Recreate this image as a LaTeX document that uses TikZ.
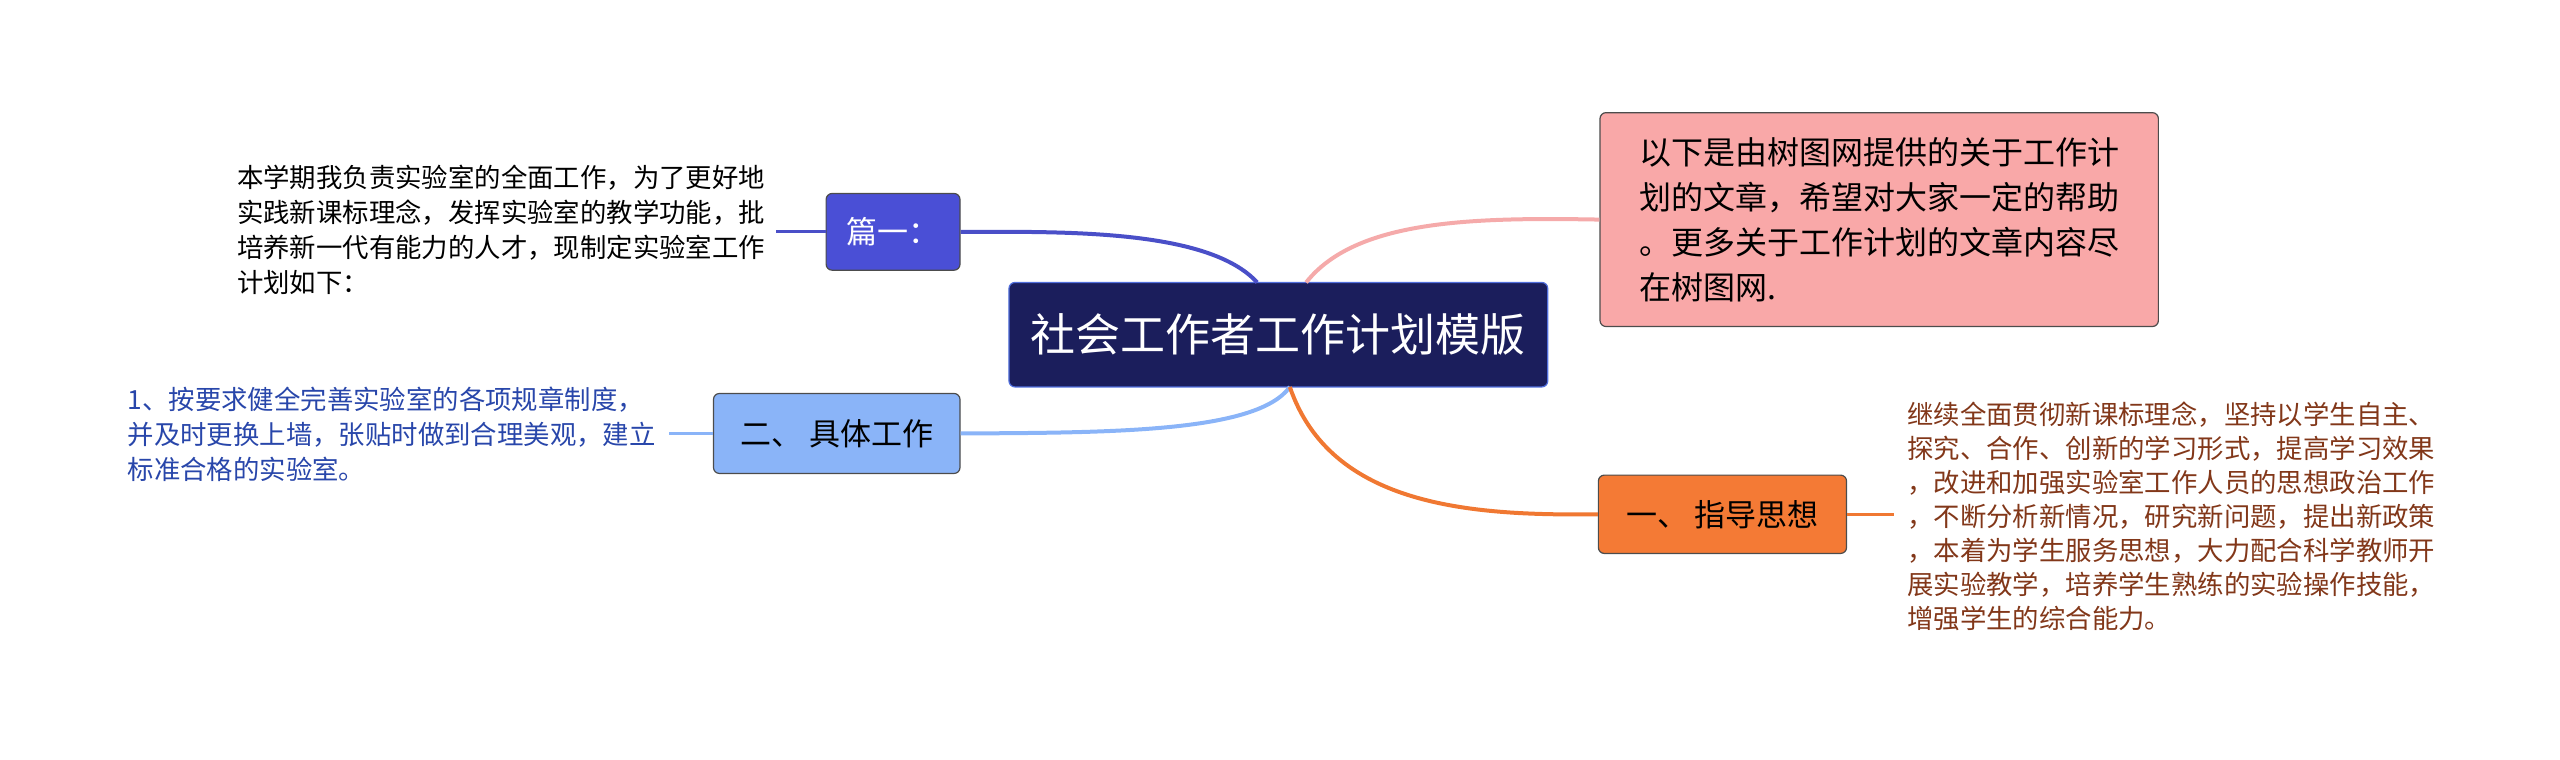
\documentclass[tikz,border=0pt]{standalone}
\usepackage{fontspec}
\setmainfont{Noto Sans CJK SC}
\newdimen\uu \uu=0.8164pt
\begin{document}
\begin{tikzpicture}[x=0.8164pt,y=-0.8164pt,
 box/.style={rounded corners=3pt,draw=black!70,line width=0.6pt,inner sep=0pt},
 leaf/.style={align=left,inner sep=0pt,font=\fontsize{13.2}{17.5}\selectfont,anchor=west},
 conn/.style={line width=2pt}]
\useasboundingbox (0,0) rectangle (1568,465);
\node[box,draw={rgb,255:red,80;green,110;blue,220},minimum width=330\uu,minimum height=64\uu,text=white,font=\fontsize{22.5}{26}\selectfont,fill={rgb,255:red,27;green,30;blue,92}] (c) at (783,205) {社会工作者工作计划模版};
\node[box,fill={rgb,255:red,74;green,79;blue,214},minimum width=82\uu,minimum height=47\uu,text=white,font=\fontsize{15.5}{18}\selectfont] (a) at (547,142) {篇一：};
\node[box,fill={rgb,255:red,138;green,180;blue,248},minimum width=151\uu,minimum height=49\uu,font=\fontsize{15.5}{18}\selectfont] (b) at (512.5,265.5) {二、 具体工作};
\node[box,fill={rgb,255:red,249;green,168;blue,168},minimum width=342\uu,minimum height=131\uu,font=\fontsize{16}{22.6}\selectfont,align=left] (p) at (1151,134.5) {以下是由树图网提供的关于工作计\\划的文章，希望对大家一定的帮助\\。更多关于工作计划的文章内容尽\\在树图网.};
\node[box,fill={rgb,255:red,244;green,122;blue,53},minimum width=152\uu,minimum height=48\uu,font=\fontsize{15.5}{18}\selectfont] (d) at (1055,315) {一、 指导思想};
\node[leaf] (la) at (145,141) {本学期我负责实验室的全面工作，为了更好地\\实践新课标理念，发挥实验室的教学功能，批\\培养新一代有能力的人才，现制定实验室工作\\计划如下：};
\node[leaf,text={rgb,255:red,40;green,70;blue,170}] (lb) at (78,266) {1、按要求健全完善实验室的各项规章制度，\\并及时更换上墙，张贴时做到合理美观，建立\\标准合格的实验室。};
\node[leaf,text={rgb,255:red,130;green,55;blue,25},font=\fontsize{13.2}{17}\selectfont] (ld) at (1168,316) {继续全面贯彻新课标理念，坚持以学生自主、\\探究、合作、创新的学习形式，提高学习效果\\，改进和加强实验室工作人员的思想政治工作\\，不断分析新情况，研究新问题，提出新政策\\，本着为学生服务思想，大力配合科学教师开\\展实验教学，培养学生熟练的实验操作技能，\\增强学生的综合能力。};
\draw[conn,draw={rgb,255:red,74;green,79;blue,200}] (770,173) .. controls (740,140) and (650,142) .. (a.east);
\draw[conn,draw={rgb,255:red,138;green,180;blue,248}] (790,237) .. controls (770,265) and (680,265) .. (b.east);
\draw[conn,draw={rgb,255:red,245;green,170;blue,170}] (800,173) .. controls (830,135) and (900,133) .. (p.west);
\draw[conn,draw={rgb,255:red,240;green,120;blue,50}] (790,237) .. controls (815,310) and (900,316) .. (d.west);
\draw[line width=1.5pt,draw={rgb,255:red,74;green,79;blue,200}] (a.west) -- (475,142);
\draw[line width=1.5pt,draw={rgb,255:red,138;green,180;blue,248}] (b.west) -- (410,265.5);
\draw[line width=1.5pt,draw={rgb,255:red,240;green,120;blue,50}] (d.east) -- (1160,315);
\end{tikzpicture}
\end{document}
